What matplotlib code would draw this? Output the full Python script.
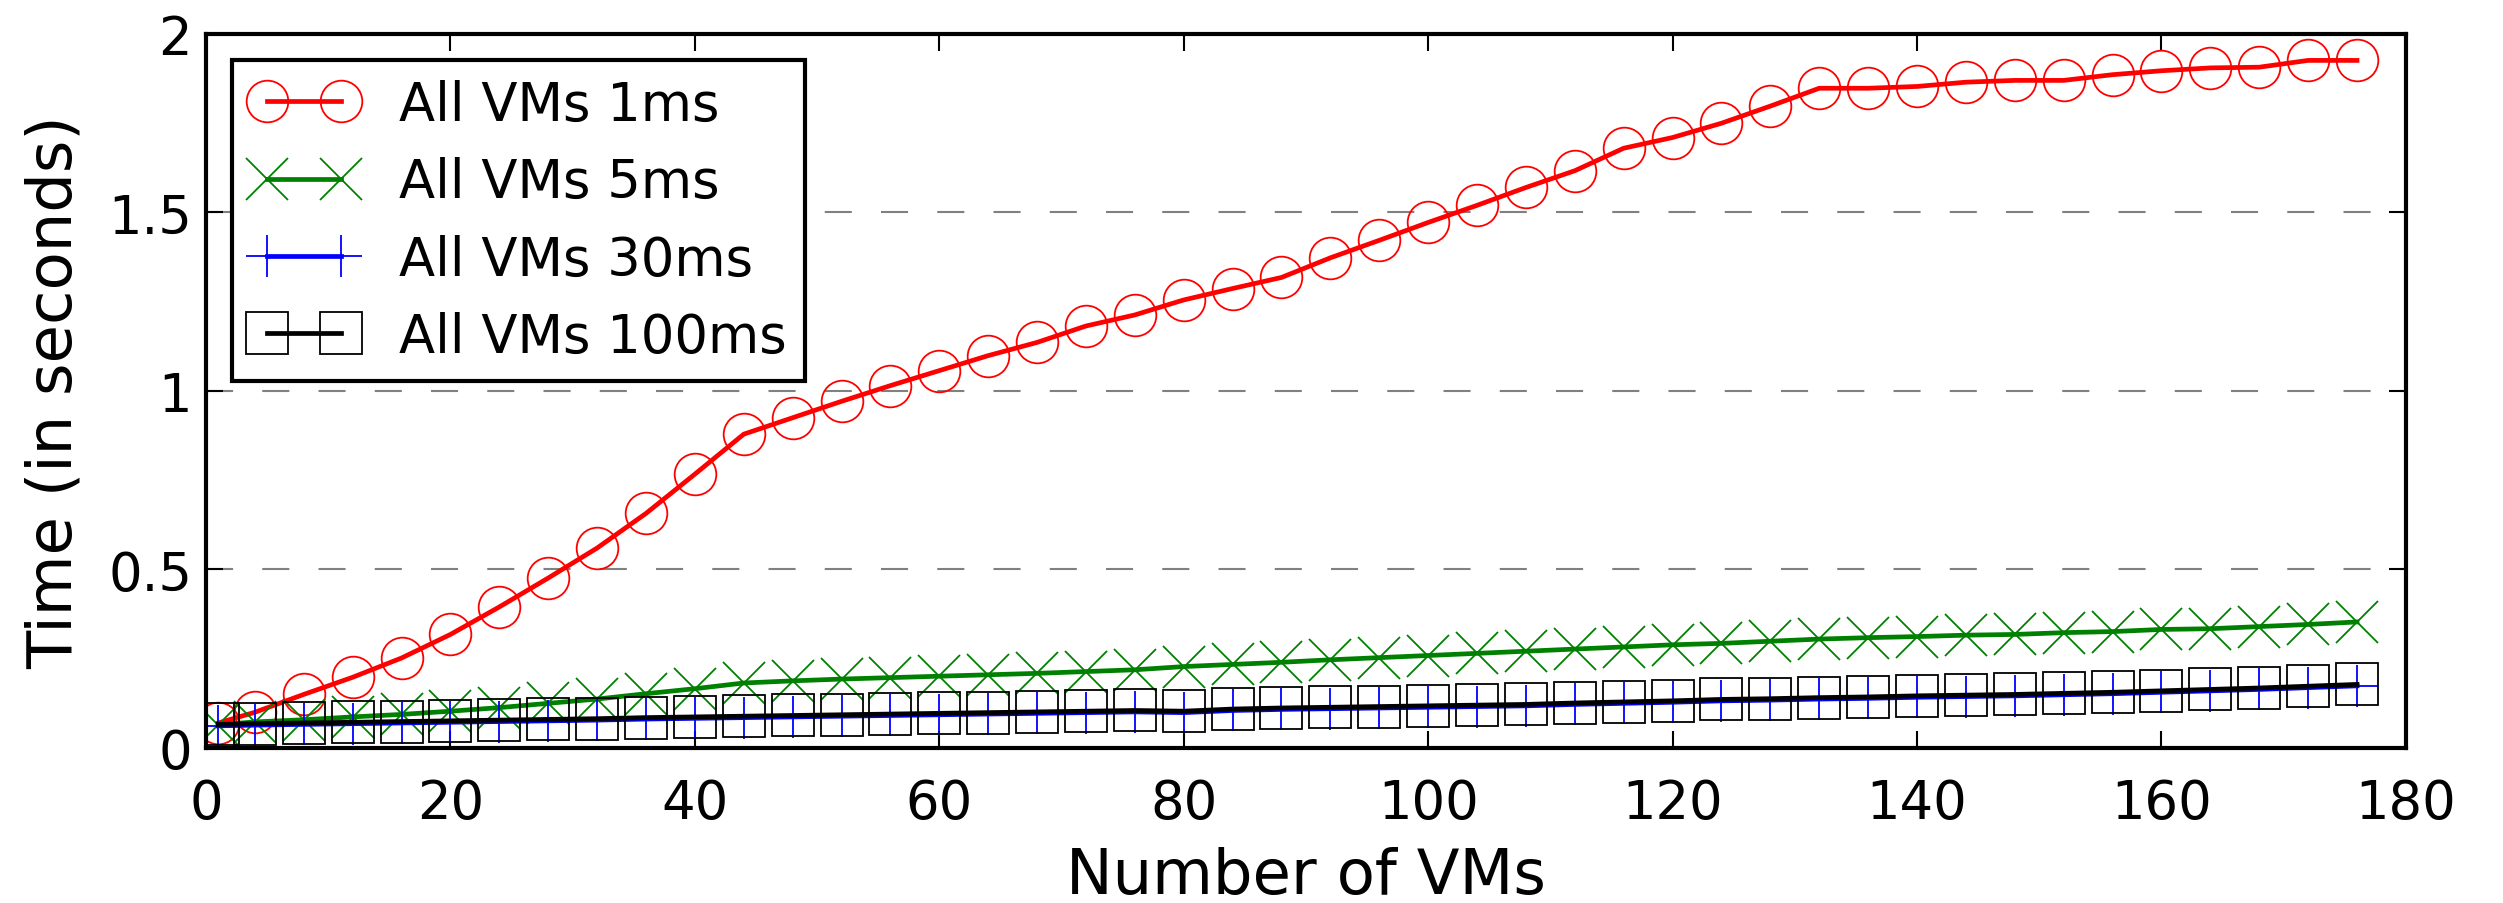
import matplotlib
matplotlib.use('Agg')
import matplotlib.pyplot as plt
from matplotlib.ticker import FormatStrFormatter

# number of VMs
vms = [1, 4, 8, 12, 16, 20, 24, 28, 32, 36, 40, 44, 48, 52, 56, 60, 64, 68, 72, 76,
       80, 84, 88, 92, 96, 100, 104, 108, 112, 116, 120, 124, 128, 132, 136, 140,
       144, 148, 152, 156, 160, 164, 168, 172, 176]

t_1ms = [0.07, 0.10, 0.15, 0.198, 0.252, 0.318, 0.395, 0.476, 0.56, 0.657, 0.767,
         0.879, 0.925, 0.971, 1.015, 1.057, 1.099, 1.136, 1.182, 1.213, 1.255, 1.287,
         1.318, 1.373, 1.422, 1.472, 1.52, 1.57, 1.617, 1.68, 1.71, 1.75, 1.798,
         1.848, 1.848, 1.853, 1.865, 1.87, 1.87, 1.886, 1.897, 1.905, 1.907, 1.926,
         1.926]

t_5ms = [0.065, 0.073, 0.079, 0.087, 0.094, 0.103, 0.113, 0.125, 0.137, 0.152, 0.166,
         0.182, 0.188, 0.193, 0.197, 0.201, 0.205, 0.209, 0.214, 0.219, 0.228, 0.234,
         0.240, 0.247, 0.253, 0.259, 0.265, 0.271, 0.277, 0.283, 0.289, 0.293, 0.299,
         0.305, 0.309, 0.312, 0.316, 0.318, 0.323, 0.326, 0.332, 0.334, 0.340, 0.346,
         0.353]

t_30ms = [0.062, 0.064, 0.066, 0.068, 0.070, 0.072, 0.074, 0.076, 0.078, 0.081, 0.083,
          0.085, 0.087, 0.089, 0.091, 0.093, 0.095, 0.097, 0.099, 0.101, 0.099, 0.105,
          0.108, 0.110, 0.112, 0.114, 0.116, 0.118, 0.122, 0.125, 0.128, 0.132, 0.134,
          0.137, 0.139, 0.142, 0.144, 0.146, 0.149, 0.152, 0.156, 0.160, 0.164, 0.169,
          0.174]

t_100ms = [0.066, 0.068, 0.070, 0.072, 0.074, 0.076, 0.078, 0.080, 0.082, 0.085, 0.087,
           0.089, 0.091, 0.093, 0.095, 0.097, 0.099, 0.101, 0.103, 0.105, 0.103, 0.109,
           0.112, 0.114, 0.116, 0.118, 0.120, 0.122, 0.126, 0.129, 0.132, 0.136, 0.138,
           0.141, 0.143, 0.146, 0.148, 0.150, 0.153, 0.156, 0.160, 0.164, 0.168, 0.173,
           0.178]

labels = ['All VMs 1ms', 'All VMs 5ms', 'All VMs 30ms', 'All VMs 100ms']

plt.rcParams['font.family'] = 'DejaVu Sans'

fig = plt.figure(figsize=(25.03, 9.04), dpi=100)
ax = fig.add_axes([0.0823, 0.1715, 0.8789, 0.7898])

lw = 3.4
ms = 30
mew = 1.3
ax.plot(vms, t_1ms, color='red', lw=lw, marker='o', ms=ms, mfc='none', mec='red', mew=mew, label=labels[0])
ax.plot(vms, t_5ms, color='green', lw=lw, marker='x', ms=ms, mec='green', mew=mew, label=labels[1])
ax.plot(vms, t_30ms, color='blue', lw=lw, marker='+', ms=ms, mec='blue', mew=mew, label=labels[2])
ax.plot(vms, t_100ms, color='black', lw=lw, marker='s', ms=ms, mfc='none', mec='black', mew=mew, label=labels[3])

ax.set_xlim(0, 180)
ax.set_ylim(0, 2)
ax.set_xticks(range(0, 181, 20))
ax.set_yticks([0, 0.5, 1, 1.5, 2])
ax.yaxis.set_major_formatter(FormatStrFormatter('%g'))

ax.set_axisbelow(True)
ax.yaxis.grid(True, color='gray', lw=1.5, linestyle=(0, (13, 14)))

for sp in ax.spines.values():
    sp.set_linewidth(3)

ax.tick_params(direction='in', length=12, width=1.5, top=True, right=True, labelsize=38)
ax.tick_params(axis='x', pad=21)
ax.tick_params(axis='y', pad=10)

ax.set_xlabel('Number of VMs', fontsize=45, labelpad=12)
ax.set_ylabel('Time (in seconds)', fontsize=45, labelpad=17)

leg = ax.legend(loc='upper left', numpoints=2, fontsize=38, handlelength=2,
                handletextpad=0.8, borderpad=0.35, labelspacing=0.48,
                borderaxespad=0.5, fancybox=False, framealpha=1)
leg.get_frame().set_edgecolor('black')
leg.get_frame().set_linewidth(3)

fig.savefig('out.png', dpi=100, facecolor='white')
